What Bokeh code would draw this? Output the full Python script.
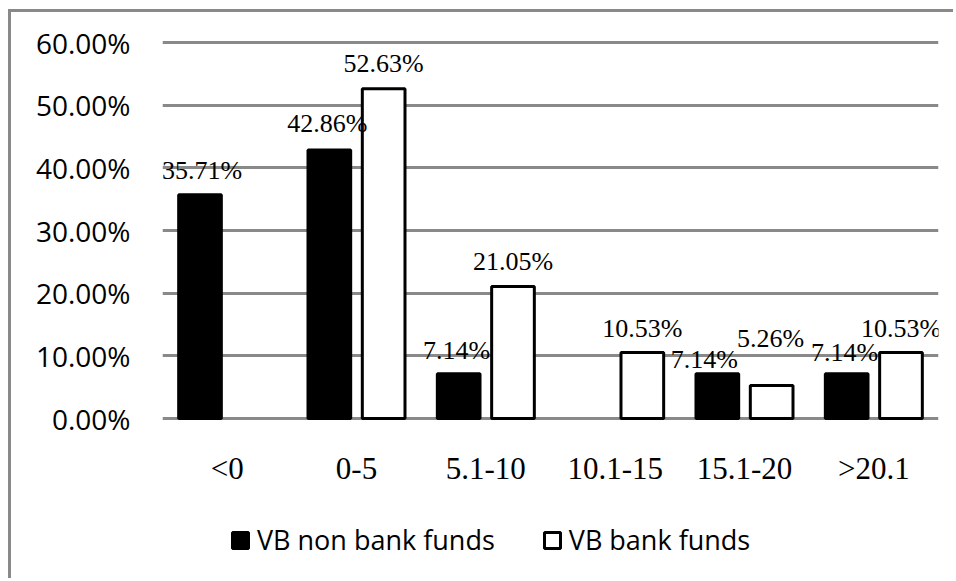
from bokeh.plotting import figure
from bokeh.models import (ColumnDataSource, FactorRange, Range1d, LabelSet, Legend,
                          LegendItem, NumeralTickFormatter, FixedTicker, CDSView, BooleanFilter)
from bokeh.transform import dodge
from bokeh.embed import file_html
from bokeh.resources import INLINE

# ---- data ----
categories = ["<0", "0-5", "5.1-10", "10.1-15", "15.1-20", ">20.1"]
non_bank = [35.71, 42.86, 7.14, 0.00, 7.14, 7.14]      # VB non bank funds (%)
bank = [0.00, 52.63, 21.05, 10.53, 5.26, 10.53]         # VB bank funds (%)
y_ticks = [0.0, 0.1, 0.2, 0.3, 0.4, 0.5, 0.6]

# label nudges (pixels) mimicking the spreadsheet's placement
nb_dx = [2, -2, -2, 0, -13, -2]
nb_dy = [24, 26, 23, 24, 14, 21]
b_dx = [0, 0, 0, 0, -1, 0]
b_dy = [24, 25, 25, 24, 47, 24]

def fmt(v):
    return f"{v:.2f}%" if v > 0 else ""

src_nb = ColumnDataSource(dict(cat=categories, val=[v / 100 for v in non_bank],
                               txt=[fmt(v) for v in non_bank], dx=nb_dx, dy=nb_dy))
src_b = ColumnDataSource(dict(cat=categories, val=[v / 100 for v in bank],
                              txt=[fmt(v) for v in bank], dx=b_dx, dy=b_dy))
view_nb = CDSView(filter=BooleanFilter([v > 0 for v in non_bank]))
view_b = CDSView(filter=BooleanFilter([v > 0 for v in bank]))

GRID = "#898989"

# the frame runs down to the bottom so that the legend is not clipped
p = figure(x_range=FactorRange(*categories, range_padding=0),
           y_range=Range1d(-0.2601, 0.6032),
           width=945, height=569, output_backend="svg", toolbar_location=None,
           min_border_left=151, min_border_right=18, min_border_top=28,
           min_border_bottom=0)
p.styles = {"border-left": f"3px solid {GRID}", "border-top": f"3px solid {GRID}",
            "margin-left": "8px", "margin-top": "9px"}
p.outline_line_color = None
p.background_fill_color = "white"
p.border_fill_color = "white"

r_nb = p.vbar(x=dodge("cat", -0.21, range=p.x_range), top="val", width=0.33, source=src_nb,
              view=view_nb, fill_color="black", line_color="black", line_width=3)
r_b = p.vbar(x=dodge("cat", 0.21, range=p.x_range), top="val", width=0.33, source=src_b,
             view=view_b, fill_color="white", line_color="black", line_width=3)

for src, off in ((src_nb, -0.21), (src_b, 0.21)):
    lab = LabelSet(x=dodge("cat", off, range=p.x_range), y="val", text="txt", source=src,
                   x_offset="dx", y_offset="dy", text_align="center", text_baseline="middle",
                   text_font="Liberation Serif", text_font_size="26px", text_color="black")
    p.add_layout(lab)

# axes
p.xgrid.grid_line_color = None
p.ygrid.grid_line_color = GRID
p.ygrid.grid_line_width = 3
p.ygrid.ticker = FixedTicker(ticks=y_ticks)
p.yaxis.ticker = FixedTicker(ticks=y_ticks)
p.yaxis.formatter = NumeralTickFormatter(format="0.00%")
for ax in (p.xaxis[0], p.yaxis[0]):
    ax.axis_line_color = None
    ax.major_tick_line_color = None
    ax.minor_tick_line_color = None
    ax.major_label_text_color = "black"
p.yaxis.major_label_text_font = "Open Sans"
p.yaxis.major_label_text_font_size = "28px"
p.yaxis.major_label_standoff = 26
p.xaxis.fixed_location = 0
p.xaxis.major_label_text_font = "Liberation Serif"
p.xaxis.major_label_text_font_size = "31px"
p.xaxis.major_label_standoff = 26
p.xaxis.group_text_font_size = "0px"

legend = Legend(items=[LegendItem(label="VB non bank funds", renderers=[r_nb]),
                       LegendItem(label="VB bank funds", renderers=[r_b])],
                orientation="horizontal", location=(68, 23),
                glyph_width=20, glyph_height=20, label_standoff=7, spacing=47,
                padding=0, margin=0, border_line_color=None, background_fill_alpha=0,
                label_text_font="Open Sans", label_text_font_size="27px",
                label_text_color="black")
p.add_layout(legend)

open("out.html", "w").write(file_html(p, INLINE))
